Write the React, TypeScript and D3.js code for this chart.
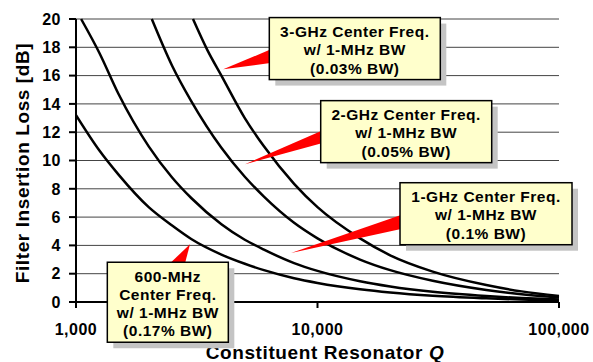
import React from "react";
import * as d3 from "d3";

// resonator Q vs insertion loss
const qA = [1000, 1250, 1500, 2000, 2500, 3000, 4000, 5000, 6000, 8000, 10000, 15000, 20000, 30000, 50000, 70000, 100000];
const lossA = [13.2, 10.7, 9.0, 6.7, 5.4, 4.45, 3.35, 2.7, 2.25, 1.68, 1.35, 0.9, 0.67, 0.44, 0.26, 0.17, 0.1];

const qB = [1050, 1250, 1500, 2000, 2500, 3000, 4000, 5000, 6000, 8000, 10000, 15000, 20000, 30000, 50000, 70000, 100000];
const lossB = [20.0, 17.6, 14.7, 11.0, 8.8, 7.35, 5.5, 4.4, 3.7, 2.75, 2.2, 1.47, 1.1, 0.72, 0.42, 0.28, 0.18];

const qC = [2060, 2500, 3000, 4000, 5000, 6000, 8000, 10000, 15000, 20000, 30000, 50000, 70000, 100000];
const lossC = [20.0, 16.7, 14.2, 10.9, 8.85, 7.45, 5.6, 4.5, 3.0, 2.25, 1.5, 0.85, 0.55, 0.32];

const qD = [3050, 3500, 4000, 5000, 6000, 8000, 10000, 15000, 20000, 30000, 50000, 70000, 100000];
const lossD = [20.0, 17.8, 16.0, 13.0, 11.0, 8.35, 6.7, 4.5, 3.3, 2.15, 1.2, 0.75, 0.42];

const xTicks = [1000, 10000, 100000];
const yTicks = [0, 2, 4, 6, 8, 10, 12, 14, 16, 18, 20];

const series = [
  { q: qA, loss: lossA },
  { q: qB, loss: lossB },
  { q: qC, loss: lossC },
  { q: qD, loss: lossD },
];

// callouts: tip and box corner in data units, box size in px
const callouts = [
  { lines: ["3-GHz Center Freq.", "w/ 1-MHz BW", "(0.03% BW)"], tipQ: 4070, tipL: 16.45, boxQ: 6316, boxL: 20.1, w: 171, h: 62, side: "left", b0: 32, b1: 45.5 },
  { lines: ["2-GHz Center Freq.", "w/ 1-MHz BW", "(0.05% BW)"], tipQ: 5010, tipL: 9.73, boxQ: 10310, boxL: 14.23, w: 171, h: 62, side: "left", b0: 30, b1: 42.6 },
  { lines: ["1-GHz Center Freq.", "w/ 1-MHz BW", "(0.1% BW)"], tipQ: 7770, tipL: 3.46, boxQ: 21960, boxL: 8.43, w: 172, h: 62, side: "left", b0: 32.3, b1: 46.3 },
  { lines: ["600-MHz", "Center Freq.", "w/ 1-MHz BW", "(0.17% BW)"], tipQ: 2965, tipL: 4.08, boxQ: 1348, boxL: 2.81, w: 121, h: 80, side: "top", b0: 62.7, b1: 77.7 },
];

const W = 593;
const H = 362;
const left = 76, right = 559, top = 19, bottom = 302;
const font = "'Liberation Sans', Arial, sans-serif";

export default function App() {
  const x = d3.scaleLog().domain([1000, 100000]).range([left, right]);
  const y = d3.scaleLinear().domain([0, 20]).range([bottom, top]);
  const fmt = d3.format(",");

  const line = d3
    .line<[number, number]>()
    .x((d) => x(d[0]))
    .y((d) => y(d[1]))
    .curve(d3.curveMonotoneX);

  return (
    <svg width={W} height={H} style={{ position: "absolute", left: 0, top: 0, background: "#fff" }}>
      <defs>
        <clipPath id="plot">
          <rect x={left} y={top - 2} width={right - left + 2} height={bottom - top + 2} />
        </clipPath>
      </defs>

      {yTicks.filter((t) => t > 0).map((t) => (
        <line key={t} x1={left} x2={right} y1={y(t)} y2={y(t)} stroke="#444" strokeWidth={1} />
      ))}

      <g clipPath="url(#plot)">
        {series.map((s, i) => (
          <path
            key={i}
            d={line(s.q.map((q, j) => [q, s.loss[j]] as [number, number])) || ""}
            fill="none"
            stroke="#000"
            strokeWidth={2.5}
          />
        ))}
      </g>

      {/* axes */}
      <line x1={left} x2={left} y1={top} y2={bottom + 1} stroke="#000" strokeWidth={2} />
      <line x1={left - 1} x2={right} y1={bottom} y2={bottom} stroke="#000" strokeWidth={2} />
      {yTicks.map((t) => (
        <g key={t}>
          <line x1={left - 7} x2={left} y1={y(t)} y2={y(t)} stroke="#000" strokeWidth={2} />
          <text x={61} y={y(t)} dy="0.36em" textAnchor="end" fontFamily={font} fontWeight="bold" fontSize={16} letterSpacing={0.5}>
            {t}
          </text>
        </g>
      ))}
      {xTicks.map((t) => (
        <g key={t}>
          <line x1={x(t)} x2={x(t)} y1={bottom} y2={bottom + 6} stroke="#000" strokeWidth={2} />
          <text x={x(t)} y={335} textAnchor="middle" fontFamily={font} fontWeight="bold" fontSize={16} letterSpacing={0.5}>
            {fmt(t)}
          </text>
        </g>
      ))}

      <text
        transform={`translate(22.5,163) rotate(-90)`}
        textAnchor="middle"
        dy="0.36em"
        fontFamily={font}
        fontWeight="bold"
        fontSize={19}
        letterSpacing={0.6}
      >
        Filter Insertion Loss [dB]
      </text>
      <text x={325} y={359} textAnchor="middle" fontFamily={font} fontWeight="bold" fontSize={19} letterSpacing={0.6}>
        Constituent Resonator <tspan fontStyle="italic">Q</tspan>
      </text>

      {/* callouts */}
      {callouts.map((c, i) => {
        const bx = x(c.boxQ);
        const by = y(c.boxL);
        const tx = x(c.tipQ);
        const ty = y(c.tipL);
        const tri =
          c.side === "left"
            ? `M${tx},${ty}L${bx + 1},${by + c.b0}L${bx + 1},${by + c.b1}Z`
            : `M${tx},${ty}L${bx + c.b0},${by + 1}L${bx + c.b1},${by + 1}Z`;
        const n = c.lines.length;
        const lh = n === 4 ? 17.8 : 18.4;
        const cy = by + c.h / 2 + 1;
        return (
          <g key={i}>
            <rect x={bx + 6} y={by + 6} width={c.w} height={c.h} fill="#c4c4c4" />
            <path d={tri} fill="#ff0000" />
            <rect x={bx} y={by} width={c.w} height={c.h} fill="#ffffcc" stroke="#000" strokeWidth={1.5} />
            {c.lines.map((l, j) => (
              <text
                key={j}
                x={bx + c.w / 2}
                y={cy + (j - (n - 1) / 2) * lh}
                dy="0.36em"
                textAnchor="middle"
                fontFamily={font}
                fontWeight="bold"
                fontSize={15.5}
                letterSpacing={0.5}
              >
                {l}
              </text>
            ))}
          </g>
        );
      })}
    </svg>
  );
}
